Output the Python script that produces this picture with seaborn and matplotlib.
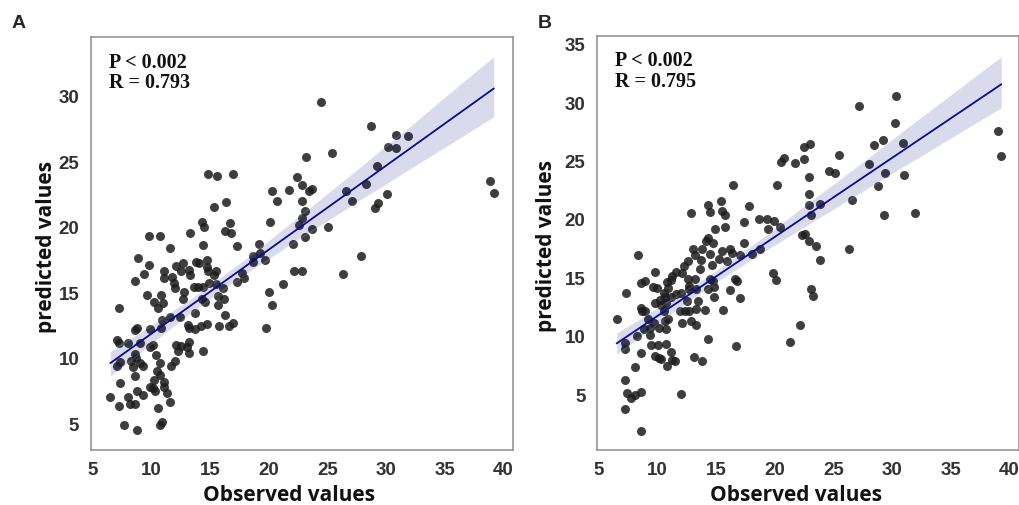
import matplotlib
matplotlib.use("Agg")
import matplotlib.pyplot as plt
import seaborn as sns

# panel A: observed vs predicted
obs_a = [23.2, 14.8, 15.6, 17.0, 22.4, 22.8, 23.4, 20.3, 21.7, 20.7, 22.8, 16.4, 15.3, 23.1, 22.8, 20.1,
         14.3, 14.5, 16.7, 16.3, 16.8, 13.3, 9.8, 10.7, 22.6, 11.6, 14.4, 17.3, 19.2, 22.1, 23.1, 8.9,
         9.8, 12.1, 12.7, 13.8, 14.1, 14.7, 14.7, 18.7, 19.3, 18.7, 19.7, 9.4, 8.6, 11.1, 11.1, 11.8,
         12.5, 13.2, 13.3, 14.8, 15.5, 15.3, 11.9, 12.0, 13.6, 14.0, 14.4, 14.9, 15.5, 16.1, 17.3, 17.9,
         17.7, 22.2, 22.8, 21.2, 9.6, 10.8, 12.8, 10.2, 11.0, 10.6, 12.7, 14.3, 14.6, 15.7, 16.2, 15.7,
         20.0, 20.3, 7.2, 13.7, 11.6, 12.4, 10.9, 16.3, 17.0, 16.6, 15.8, 14.7, 14.2, 13.7, 13.2, 13.1,
         8.8, 8.6, 9.9, 10.8, 19.8, 7.1, 7.2, 8.0, 9.0, 10.1, 9.9, 12.1, 12.5, 13.2, 13.0, 12.3,
         13.2, 14.4, 8.6, 7.3, 7.1, 8.3, 8.7, 9.0, 8.4, 9.3, 10.4, 10.7, 12.0, 11.7, 10.5, 10.7,
         8.6, 7.3, 10.2, 11.1, 11.1, 9.9, 10.1, 8.8, 10.3, 11.3, 9.3, 6.5, 8.0, 8.2, 8.6, 7.2,
         11.6, 10.6, 7.7, 8.8, 10.7, 10.9, 24.5, 28.7, 30.9, 31.9, 30.2, 30.9, 25.4, 29.2, 28.3, 26.6,
         27.1, 30.1, 29.3, 29.1, 38.9, 39.2, 23.7, 23.7, 25.1, 27.9, 26.3]
pred_a = [25.3, 24.0, 23.9, 24.0, 23.8, 23.2, 22.7, 22.7, 22.8, 22.0, 22.0, 21.9, 21.5, 21.2, 20.7, 20.4,
          20.4, 20.0, 20.3, 19.7, 19.5, 19.5, 19.3, 19.3, 20.1, 18.4, 18.6, 18.5, 18.7, 18.7, 19.2, 17.6,
          17.1, 17.0, 17.2, 17.3, 17.2, 17.5, 16.9, 17.8, 18.0, 17.3, 17.5, 16.4, 15.9, 16.6, 16.1, 16.2,
          16.6, 16.7, 16.3, 16.6, 16.6, 16.3, 15.7, 15.3, 15.4, 15.4, 15.4, 15.7, 15.6, 15.3, 15.8, 16.1,
          16.5, 16.6, 16.6, 15.6, 14.8, 14.8, 15.0, 14.3, 14.2, 13.8, 14.5, 14.5, 14.3, 14.7, 14.5, 14.0,
          15.0, 14.0, 13.8, 13.4, 13.1, 13.1, 12.9, 13.3, 12.7, 12.4, 12.4, 12.6, 12.4, 12.2, 12.3, 12.5,
          12.3, 12.1, 12.2, 12.3, 12.3, 11.4, 11.1, 11.1, 11.1, 11.0, 10.8, 11.0, 10.9, 11.2, 10.8, 10.5,
          10.4, 10.5, 10.3, 9.7, 9.4, 9.8, 10.0, 9.6, 9.3, 9.4, 10.2, 9.6, 9.8, 9.4, 9.0, 8.7,
          8.6, 8.1, 8.3, 8.2, 7.8, 7.8, 7.7, 7.5, 7.5, 7.3, 7.2, 7.0, 7.0, 6.5, 6.5, 6.3,
          6.6, 6.2, 4.9, 4.5, 4.9, 5.1, 29.5, 27.7, 27.0, 26.9, 26.1, 26.0, 25.6, 24.6, 23.3, 22.7,
          22.0, 22.5, 21.8, 21.4, 23.5, 22.6, 22.9, 19.8, 20.0, 17.8, 16.4]

# panel B: observed vs predicted
obs_b = [23.0, 22.5, 20.5, 20.8, 21.7, 22.5, 22.9, 16.4, 20.2, 22.9, 22.9, 23.1, 14.3, 15.4, 14.5, 15.5,
         15.7, 17.8, 12.8, 17.4, 18.6, 19.3, 19.9, 20.4, 14.9, 15.7, 19.4, 22.3, 14.3, 14.1, 14.7, 13.0,
         13.8, 15.5, 16.2, 16.3, 17.4, 18.0, 18.7, 17.0, 14.5, 13.2, 13.7, 12.6, 12.2, 14.6, 15.2, 15.9,
         8.3, 9.8, 11.6, 12.1, 11.2, 12.6, 13.2, 13.6, 14.5, 14.7, 16.6, 16.8, 19.8, 20.1, 8.6, 8.9,
         9.6, 9.9, 10.8, 11.1, 10.9, 11.6, 12.0, 12.7, 12.7, 13.3, 14.3, 14.8, 14.8, 16.2, 17.0, 7.3,
         10.5, 10.2, 10.6, 11.1, 9.8, 10.3, 10.7, 12.5, 13.4, 12.7, 13.3, 14.0, 15.6, 8.6, 8.7, 8.9,
         10.5, 11.9, 12.3, 23.1, 23.2, 22.1, 21.3, 6.5, 9.2, 9.7, 10.1, 10.6, 10.9, 12.1, 12.8, 13.3,
         8.8, 9.3, 8.2, 9.3, 10.7, 14.3, 7.2, 7.2, 9.4, 10.0, 10.7, 16.7, 8.6, 11.1, 9.8, 10.1,
         10.3, 11.5, 11.2, 10.8, 13.1, 13.8, 8.1, 7.2, 7.4, 7.7, 8.1, 8.6, 12.0, 7.2, 8.6, 30.3,
         27.2, 30.2, 28.4, 29.2, 30.9, 25.5, 24.6, 25.1, 28.0, 29.4, 31.0, 28.8, 23.8, 26.6, 29.3, 31.9,
         39.0, 39.3, 22.6, 22.9, 23.5, 23.8, 26.3]
pred_b = [26.4, 26.2, 24.9, 25.2, 24.8, 25.1, 23.6, 22.9, 22.9, 22.1, 21.2, 20.3, 21.2, 21.5, 20.6, 20.7,
          20.3, 21.1, 20.5, 19.7, 20.0, 20.0, 19.8, 19.3, 19.1, 19.3, 19.1, 18.6, 18.4, 18.1, 17.9, 17.4,
          17.4, 17.3, 17.4, 17.1, 17.9, 17.0, 17.4, 16.9, 17.0, 16.9, 16.5, 16.4, 16.0, 16.1, 16.6, 16.4,
          16.9, 15.5, 15.5, 15.4, 15.1, 14.9, 14.9, 15.7, 14.9, 14.7, 14.9, 14.7, 15.4, 14.8, 14.5, 14.7,
          14.2, 14.1, 14.6, 14.8, 14.1, 13.6, 13.7, 14.3, 14.0, 14.0, 14.0, 14.2, 13.3, 13.9, 13.2, 13.7,
          13.7, 13.1, 13.3, 13.3, 12.8, 12.6, 12.8, 13.0, 13.0, 12.1, 12.3, 12.2, 12.2, 12.4, 12.1, 12.1,
          12.1, 12.1, 12.1, 14.0, 13.4, 10.9, 9.5, 11.4, 11.4, 11.1, 10.7, 11.3, 11.4, 11.1, 11.3, 10.9,
          10.6, 10.7, 10.0, 10.1, 10.6, 9.7, 9.4, 8.9, 9.2, 9.2, 9.3, 9.1, 8.5, 8.6, 8.3, 8.1,
          8.0, 7.8, 7.9, 7.4, 8.2, 7.8, 7.3, 6.2, 5.1, 4.7, 4.9, 5.2, 5.0, 3.7, 1.8, 30.5,
          29.7, 28.2, 26.3, 26.8, 26.5, 25.5, 24.1, 23.9, 24.7, 23.9, 23.8, 22.8, 21.3, 21.6, 20.3, 20.5,
          27.5, 25.4, 18.7, 18.1, 17.7, 16.5, 17.4]

panel_letters = ["A", "B"]
stats_text = ["P < 0.002\nR = 0.793", "P < 0.002\nR = 0.795"]
x_ticks = [5, 10, 15, 20, 25, 30, 35, 40]
y_ticks_a = [5, 10, 15, 20, 25, 30]
y_ticks_b = [5, 10, 15, 20, 25, 30, 35]

sns.set_style("white")
plt.rcParams['font.family'] = ['Liberation Sans', 'DejaVu Sans']


def draw_panel(ax, obs, pred, ylim, yticks, text, ylabel_x):
    """
    Scatter of observed vs predicted with a linear fit and its 95% CI band.
    """
    sns.regplot(x=obs, y=pred, ax=ax, ci=95, seed=0,
                scatter_kws={'color': '#1c1c1c', 'alpha': 0.85, 's': 42, 'linewidths': 0},
                line_kws={'color': '#0a0a8c', 'lw': 1.3})
    ax.set_xlim(4.85, 40.83)
    ax.set_ylim(*ylim)
    ax.set_xticks(x_ticks)
    ax.set_yticks(yticks)
    ax.tick_params(axis='both', labelsize=13.5, labelcolor='#333333', pad=5)
    for lab in ax.get_xticklabels() + ax.get_yticklabels():
        lab.set_fontweight('bold')
    for s in ax.spines.values():
        s.set_color('#8c8c8c')
        s.set_linewidth(1.1)

    ax.set_xlabel('Observed values', fontsize=15, fontweight='bold',
                  family=['Open Sans', 'DejaVu Sans'], color='#111111')
    ax.set_ylabel('predicted values', fontsize=15, fontweight='bold',
                  family=['Open Sans', 'DejaVu Sans'], color='#111111')
    ax.xaxis.set_label_coords(0.47, -0.082)
    ax.yaxis.set_label_coords(ylabel_x, 0.495)

    ax.text(0.042, 0.965, text, transform=ax.transAxes, ha='left', va='top',
            fontsize=14.5, fontweight='bold', linespacing=1.05,
            family=['Liberation Serif', 'DejaVu Serif'], color='#111111')


fig = plt.figure(figsize=(10.2, 5.06), dpi=100)
ax_a = fig.add_axes([0.0892, 0.1093, 0.4137, 0.815])
ax_b = fig.add_axes([0.5856, 0.1093, 0.4137, 0.818])

draw_panel(ax_a, obs_a, pred_a, (3.0, 34.45), y_ticks_a, stats_text[0], -0.08)
draw_panel(ax_b, obs_b, pred_b, (0.23, 35.7), y_ticks_b, stats_text[1], -0.095)

fig.text(12 / 1020, 1 - 23 / 506, panel_letters[0], fontsize=14, fontweight='bold', va='center')
fig.text(538 / 1020, 1 - 23 / 506, panel_letters[1], fontsize=14, fontweight='bold', va='center')

fig.savefig('out.png', dpi=100, facecolor='white')
